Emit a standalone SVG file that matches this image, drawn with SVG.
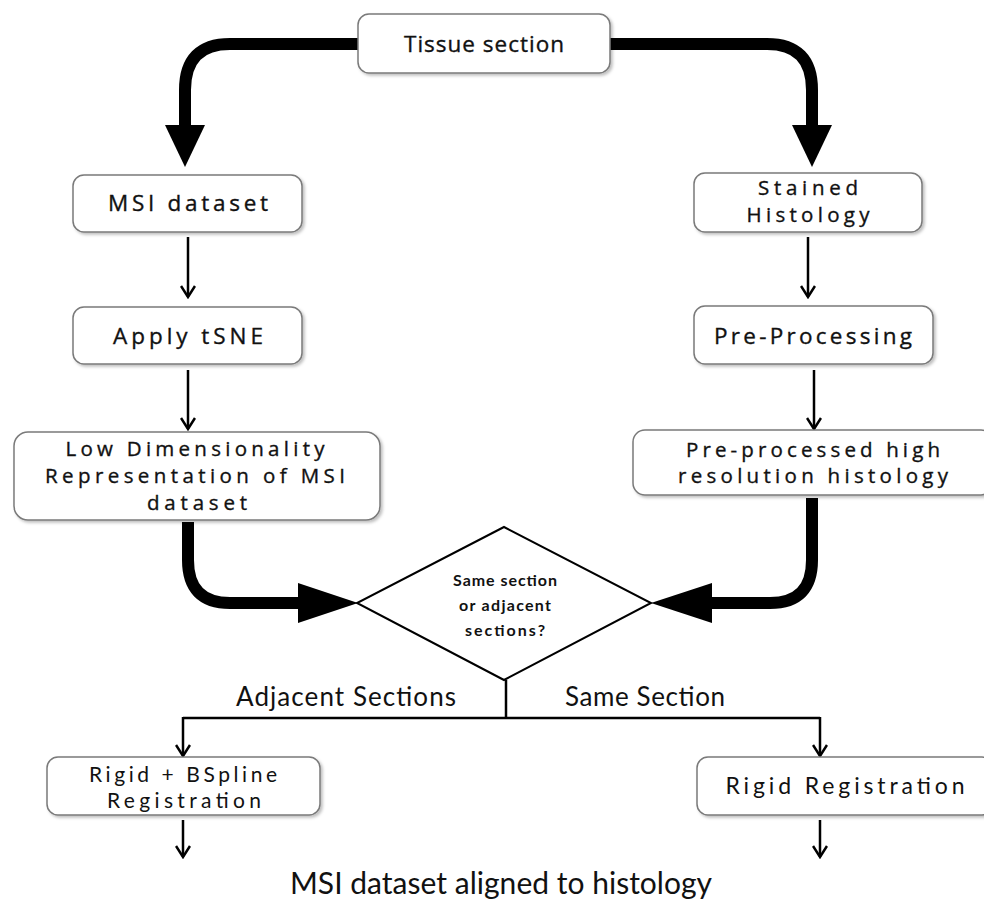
<svg xmlns="http://www.w3.org/2000/svg" width="984" height="901" viewBox="0 0 984 901">
<style>
.box{fill:#fff;stroke:#7a7a7a;stroke-width:1.5;filter:url(#sh)}
.t{font-family:"Open Sans","DejaVu Sans",sans-serif;font-size:20.5px;fill:#111;stroke:#111;stroke-width:0.35;text-anchor:middle}
.s{font-size:22.5px}
.c{font-family:Lato,"Liberation Sans",sans-serif;fill:#111;text-anchor:middle}
.thick{fill:none;stroke:#000;stroke-width:12}
.thin{fill:none;stroke:#000;stroke-width:2.5}
</style>
<defs>
<filter id="sh" x="-5%" y="-10%" width="115%" height="130%">
<feDropShadow dx="2" dy="2" stdDeviation="1.5" flood-color="#000" flood-opacity="0.25"/>
</filter>
<marker id="ah" viewBox="0 0 16 16" refX="14" refY="8" markerWidth="16" markerHeight="16" markerUnits="userSpaceOnUse" orient="auto">
<polyline points="3,1 14,8 3,15" fill="none" stroke="#000" stroke-width="2.5"/>
</marker>
</defs>
<rect width="984" height="901" fill="#fff"/>

<g id="connectors">
<path class="thick" d="M358,44 H230 Q185,44 185,90 V127"/>
<polygon points="165,125 205,125 185,167"/>
<path class="thick" d="M610,44 H767 Q812,44 812,90 V127"/>
<polygon points="792,125 832,125 812,167"/>
<path class="thin" d="M188,237 V297" marker-end="url(#ah)"/>
<path class="thin" d="M188,370 V429" marker-end="url(#ah)"/>
<path class="thin" d="M808,237 V297" marker-end="url(#ah)"/>
<path class="thin" d="M814,370 V429" marker-end="url(#ah)"/>
<path class="thick" d="M188,522 V560 Q188,603 230,603 H302"/>
<polygon points="298,583 298,623 358,603"/>
<path class="thick" d="M812,498 V560 Q812,603 770,603 H708"/>
<polygon points="712,583 712,623 651,603"/>
<path class="thin" d="M506,680 V718"/>
<path class="thin" d="M183,718 H820"/>
<path class="thin" d="M183,717 V756" marker-end="url(#ah)"/>
<path class="thin" d="M820,717 V756" marker-end="url(#ah)"/>
<path class="thin" d="M183,820 V857" marker-end="url(#ah)"/>
<path class="thin" d="M820,820 V857" marker-end="url(#ah)"/>
</g>

<g id="tissue">
<rect class="box" x="358" y="14" width="252" height="59" rx="11"/>
<text class="t s" x="484" y="52" textLength="160">Tissue section</text>
</g>
<g id="msi">
<rect class="box" x="73" y="175" width="229" height="57" rx="11"/>
<text class="t s" x="188" y="211" textLength="160">MSI dataset</text>
</g>
<g id="tsne">
<rect class="box" x="73" y="307" width="229" height="57" rx="11"/>
<text class="t s" x="188" y="344" textLength="150">Apply tSNE</text>
</g>
<g id="lowdim">
<rect class="box" x="14" y="432" width="366" height="88" rx="14"/>
<text class="t" x="195" y="456" textLength="259">Low Dimensionality</text>
<text class="t" x="195" y="483" textLength="300">Representation of MSI</text>
<text class="t" x="197" y="510" textLength="100">dataset</text>
</g>
<g id="stained">
<rect class="box" x="694" y="173" width="228" height="59" rx="11"/>
<text class="t" x="808" y="195" textLength="100">Stained</text>
<text class="t" x="808" y="222" textLength="123">Histology</text>
</g>
<g id="preproc">
<rect class="box" x="694" y="306" width="239" height="58" rx="11"/>
<text class="t s" x="813" y="344" textLength="198">Pre-Processing</text>
</g>
<g id="preprocessed">
<rect class="box" x="633" y="430" width="360" height="65" rx="12"/>
<text class="t" x="813" y="457" textLength="254">Pre-processed high</text>
<text class="t" x="813" y="483" textLength="270">resolution histology</text>
</g>
<g id="decision">
<polygon points="504,527 651,603 504,680 357,603" fill="#fff" stroke="#000" stroke-width="2"/>
<text class="c" x="505" y="586" font-size="16" font-weight="bold" textLength="104">Same section</text>
<text class="c" x="505" y="611" font-size="16" font-weight="bold" textLength="92">or adjacent</text>
<text class="c" x="505" y="636" font-size="16" font-weight="bold" textLength="80">sections?</text>
</g>
<g id="labels">
<text class="c" x="346" y="706" font-size="26" textLength="220">Adjacent Sections</text>
<text class="c" x="645" y="706" font-size="26" textLength="160">Same Section</text>
</g>
<g id="bspline">
<rect class="box" x="47" y="757" width="273" height="58" rx="11"/>
<text class="c" x="183" y="782" font-size="21" textLength="188">Rigid + BSpline</text>
<text class="c" x="184" y="808" font-size="21" textLength="154">Registration</text>
</g>
<g id="rigid">
<rect class="box" x="697" y="757" width="296" height="58" rx="11"/>
<text class="c" x="845" y="794" font-size="23" textLength="239">Rigid Registration</text>
</g>
<g id="result">
<text class="c" x="501" y="894" font-size="30" textLength="422">MSI dataset aligned to histology</text>
</g>
</svg>
